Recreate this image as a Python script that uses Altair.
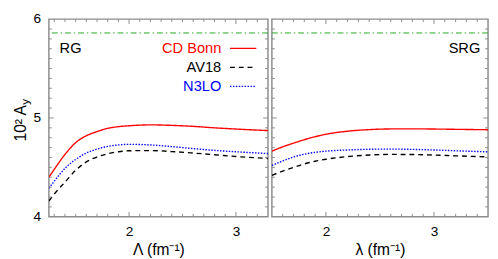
import altair as alt
import pandas as pd

# ---- data ----
models = ["CD Bonn", "AV18", "N3LO"]
model_colors = ["#ff0000", "#000000", "#0000ff"]
model_dashes = [[1, 0], [5, 4], [1.5, 1.5]]

rg_lambda = [1.25, 1.3, 1.4, 1.5, 1.6, 1.7, 1.8, 1.9, 2.0, 2.2, 2.4, 2.6, 2.8, 3.0, 3.3]
rg_cdbonn = [4.40, 4.48, 4.63, 4.75, 4.82, 4.862, 4.895, 4.912, 4.921, 4.930, 4.925, 4.915, 4.900, 4.888, 4.872]
rg_av18 = [4.16, 4.23, 4.35, 4.47, 4.555, 4.605, 4.638, 4.658, 4.668, 4.670, 4.660, 4.645, 4.628, 4.610, 4.590]
rg_n3lo = [4.29, 4.36, 4.49, 4.58, 4.645, 4.685, 4.712, 4.727, 4.733, 4.727, 4.710, 4.690, 4.672, 4.658, 4.640]

srg_lambda = [1.5, 1.6, 1.7, 1.8, 1.9, 2.0, 2.2, 2.4, 2.6, 2.8, 3.0, 3.2, 3.5]
srg_cdbonn = [4.664, 4.708, 4.745, 4.780, 4.810, 4.835, 4.866, 4.882, 4.889, 4.890, 4.888, 4.885, 4.881]
srg_av18 = [4.420, 4.462, 4.500, 4.535, 4.562, 4.582, 4.609, 4.625, 4.631, 4.630, 4.625, 4.617, 4.606]
srg_n3lo = [4.520, 4.565, 4.605, 4.633, 4.652, 4.664, 4.676, 4.683, 4.685, 4.682, 4.676, 4.668, 4.657]

exact_ay = [5.86]
y_tick_labels = [4, 5, 6]
x_tick_labels = [2, 3]
rg_domain = [1.25, 3.3]
srg_domain = [1.5, 3.5]

FONT = "Liberation Sans"
GRAY = "#8c8c8c"
H = 203
W_RG = 225
W_SRG = 222


def curves_df(xs, a, b, c):
    rows = []
    for name, ys in zip(models, [a, b, c]):
        for x, y in zip(xs, ys):
            rows.append({"x": x, "y": y, "model": name})
    return pd.DataFrame(rows)


def minor_major(lo, hi):
    vals = [round(k / 10, 1) for k in range(int(lo * 10) + 1, int(round(hi * 10)))]
    minor = [v for v in vals if abs(v - round(v)) > 1e-9]
    major = [v for v in vals if abs(v - round(v)) < 1e-9]
    return minor, major


def one():
    return alt.Chart(pd.DataFrame({"a": [0]}))


def panel(xs, a, b, c, dom, W, xtitle, left, tag, tag_x, tag_align):
    xaxis = alt.Axis(values=x_tick_labels, format="d", title=xtitle)
    xenc = alt.X("x:Q", scale=alt.Scale(domain=dom, nice=False, zero=False), axis=xaxis)
    yscale = alt.Scale(domain=[4, 6], nice=False, zero=False)
    yenc = alt.Y("y:Q", scale=yscale, axis=None)

    layers = []
    # exact value (dash-dot)
    layers.append(
        alt.Chart(pd.DataFrame({"y": exact_ay}))
        .mark_rule(color="#22aa22", strokeWidth=1, strokeDash=[6, 3, 1.5, 3])
        .encode(y=yenc)
    )
    # curves
    layers.append(
        alt.Chart(curves_df(xs, a, b, c))
        .mark_line(strokeWidth=1.4, interpolate="monotone", clip=True)
        .encode(
            x=xenc,
            y=yenc,
            color=alt.Color("model:N", scale=alt.Scale(domain=models, range=model_colors), legend=None),
            strokeDash=alt.StrokeDash("model:N", scale=alt.Scale(domain=models, range=model_dashes), legend=None),
            detail="model:N",
        )
    )
    # inward ticks
    xminor, xmajor = minor_major(dom[0], dom[1])
    yminor, ymajor = minor_major(4, 6)
    for vals, ln in ((xminor, 3), (xmajor, 5)):
        d = pd.DataFrame({"x": vals})
        layers.append(alt.Chart(d).mark_rule(color=GRAY, strokeWidth=1)
                      .encode(x=xenc, y=alt.value(H), y2=alt.value(H - ln)))
        layers.append(alt.Chart(d).mark_rule(color=GRAY, strokeWidth=1)
                      .encode(x=xenc, y=alt.value(0), y2=alt.value(ln)))
    for vals, ln in ((yminor, 3), (ymajor, 5)):
        d = pd.DataFrame({"y": vals})
        layers.append(alt.Chart(d).mark_rule(color=GRAY, strokeWidth=1)
                      .encode(y=yenc, x=alt.value(0), x2=alt.value(ln)))
        layers.append(alt.Chart(d).mark_rule(color=GRAY, strokeWidth=1)
                      .encode(y=yenc, x=alt.value(W), x2=alt.value(W - ln)))
    # panel tag
    layers.append(
        one().mark_text(text=tag, font=FONT, fontSize=15, align=tag_align, baseline="middle", color="black")
        .encode(x=alt.value(tag_x), y=alt.value(30))
    )
    if left:
        # y tick labels through the y scale
        layers.append(
            alt.Chart(pd.DataFrame({"y": y_tick_labels}))
            .mark_text(font=FONT, fontSize=14, align="right", baseline="middle", color="black")
            .encode(y=yenc, x=alt.value(-8), text=alt.Text("y:Q", format="d"))
        )
        rows = [30, 49.5, 69]
        for name, col, dash, ry in zip(models, model_colors, model_dashes, rows):
            layers.append(
                one().mark_text(text=name, font=FONT, fontSize=15, align="right", baseline="middle", color=col)
                .encode(x=alt.value(177), y=alt.value(ry))
            )
            layers.append(
                one().mark_rule(color=col, strokeWidth=1.4, strokeDash=dash)
                .encode(x=alt.value(186), x2=alt.value(213), y=alt.value(ry))
            )
        # y-axis title: 10² A_y  (rotated, reading upward)
        layers.append(
            one().mark_text(text="10² A", font=FONT, fontSize=16, angle=270, align="center",
                            baseline="alphabetic", color="black")
            .encode(x=alt.value(-24), y=alt.value(107))
        )
        layers.append(
            one().mark_text(text="y", font=FONT, fontSize=12, angle=270, align="center",
                            baseline="alphabetic", color="black")
            .encode(x=alt.value(-20), y=alt.value(85))
        )
    return alt.layer(*layers).properties(width=W, height=H)


left = panel(rg_lambda, rg_cdbonn, rg_av18, rg_n3lo, rg_domain, W_RG, "Λ (fm⁻¹)", True, "RG", 11, "left")
right = panel(srg_lambda, srg_cdbonn, srg_av18, srg_n3lo, srg_domain, W_SRG, "λ (fm⁻¹)", False, "SRG", 214, "right")

chart = (
    alt.hconcat(left, right, spacing=0)
    .properties(padding={"left": 4, "top": 0, "right": 0, "bottom": 0})
    .configure_view(stroke=GRAY, strokeWidth=1.5)
    .configure_axis(
        labelFont=FONT, labelFontSize=14, labelColor="black", labelPadding=8,
        titleFont=FONT, titleFontSize=16, titleColor="black", titlePadding=4, titleFontWeight="normal",
        domain=False, ticks=False, grid=False,
    )
)

chart.save("out.html", embed_options={"renderer": "svg", "actions": False})
